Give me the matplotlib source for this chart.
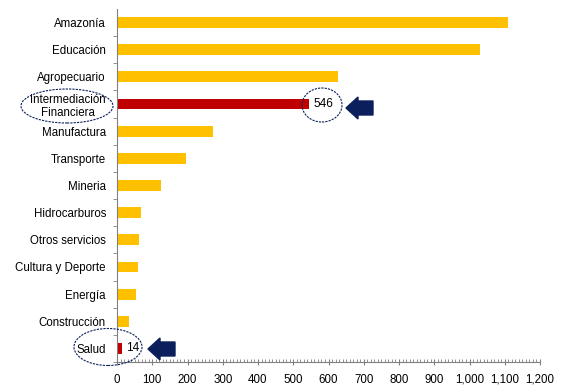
import matplotlib.pyplot as plt
import numpy as np
from matplotlib.patches import Ellipse, Polygon
from matplotlib.ticker import FuncFormatter, MultipleLocator

plt.rcParams["font.family"] = ["Liberation Sans", "DejaVu Sans"]
plt.rcParams["font.size"] = 8.3

# datos
sectores = ["Amazonía", "Educación", "Agropecuario", "Intermediación\nFinanciera",
            "Manufactura", "Transporte", "Mineria", "Hidrocarburos",
            "Otros servicios", "Cultura y Deporte", "Energía", "Construcción", "Salud"]
valores = [1108, 1030, 627, 546, 271, 195, 124, 68, 62, 59, 54, 34, 14]
resaltados = ["Intermediación\nFinanciera", "Salud"]

amarillo = "#FFC000"
rojo = "#C00000"
azul = "#0B1F5C"
gris = "#808080"

W, H = 566, 389
fig = plt.figure(figsize=(W / 100, H / 100), dpi=100)
ax = fig.add_axes([117 / W, 1 - 362 / H, 423 / W, 353 / H])

y = np.arange(len(sectores))
colores = [rojo if s in resaltados else amarillo for s in sectores]
ax.barh(y, valores, height=0.4, color=colores)

ax.set_xlim(0, 1200)
ax.set_ylim(len(sectores) - 0.5, -0.5)
ax.set_yticks(y)
ax.set_yticklabels(sectores, multialignment="center", linespacing=1.15)
ax.set_yticks(np.arange(len(sectores)) + 0.5, minor=True)
ax.xaxis.set_major_locator(MultipleLocator(100))
ax.xaxis.set_minor_locator(MultipleLocator(10))
ax.xaxis.set_major_formatter(FuncFormatter(lambda v, p: f"{int(v):,}"))

for s in ["top", "right"]:
    ax.spines[s].set_visible(False)
for s in ["left", "bottom"]:
    ax.spines[s].set_color(gris)
ax.tick_params(axis="y", which="major", length=0, pad=8)
ax.tick_params(axis="y", which="minor", length=3, color=gris)
ax.tick_params(axis="x", which="major", length=5, direction="inout", color=gris, pad=6)
ax.tick_params(axis="x", which="minor", length=2, direction="in", color=gris)

# etiquetas de valor para los sectores resaltados
for s in resaltados:
    i = sectores.index(s)
    ax.text(valores[i] + 12, i, f"{valores[i]:,}", va="center", ha="left", fontsize=8.5)


def px(x, yy):
    return (x / W, 1 - yy / H)


def elipse(cx, cy, w, h):
    e = Ellipse(px(cx, cy), w / W, h / H, transform=fig.transFigure, fill=False,
                edgecolor=azul, linestyle=(0, (2, 1)), linewidth=0.8)
    fig.add_artist(e)


def flecha(tip_x, cy):
    pts = [(tip_x, cy), (tip_x + 12, cy - 11), (tip_x + 12, cy - 7), (tip_x + 27, cy - 7),
           (tip_x + 27, cy + 7), (tip_x + 12, cy + 7), (tip_x + 12, cy + 11)]
    fig.add_artist(Polygon([px(a, b) for a, b in pts], closed=True,
                           transform=fig.transFigure, color=azul))


elipse(67, 106, 92, 34)
elipse(322, 105, 40, 34)
elipse(108, 347, 68, 37)
flecha(346, 108)
flecha(148, 349)

fig.savefig("out.png", dpi=100)
